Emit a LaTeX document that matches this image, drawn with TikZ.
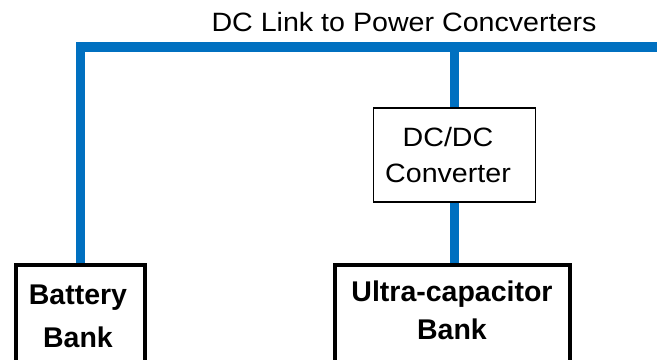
\documentclass[tikz,border=0pt]{standalone}
\usepackage{fontspec}
\setmainfont{Liberation Sans}
\usetikzlibrary{backgrounds}
\definecolor{busblue}{RGB}{0,112,192}
\begin{document}
\begin{tikzpicture}[x=1bp,y=-1bp,
  bigbox/.style={draw=black, line width=4bp, fill=white, outer sep=0pt, inner sep=0pt},
  smallbox/.style={draw=black, line width=1.8bp, fill=white, outer sep=0pt, inner sep=0pt},
  boldtxt/.style={font=\fontsize{28.5bp}{#1}\selectfont\bfseries, align=center, inner sep=0pt},
  regtxt/.style={font=\fontsize{26.5bp}{#1}\selectfont, align=center, inner sep=0pt, xscale=1.08, transform shape},
  bus/.style={draw=busblue, line width=9.5bp, line join=miter, line cap=butt}]
\useasboundingbox (0,0) rectangle (657,359);
\clip (0,0) rectangle (657,359);
% boxes
\node[bigbox, minimum width=129bp, minimum height=125bp, anchor=north] (bat) at (80.5,265) {};
\node[bigbox, minimum width=235bp, minimum height=125bp, anchor=north] (uc) at (452.5,265) {};
\node[smallbox, minimum width=162bp, minimum height=94bp, anchor=north] (dc) at (454.5,108) {};
% texts
\node[boldtxt=43bp] (battxt) at (78,316.1) {Battery\\Bank};
\node[boldtxt=38bp] (uctxt) at (452,310.6) {Ultra-capacitor\\Bank};
\node[regtxt=36bp] (dctxt) at (448,155.5) {DC/DC\\Converter};
\node[regtxt=30bp, anchor=base] (linktxt) at (404,31) {DC Link to Power Concverters};
% connectors
\coordinate (busR) at (680,47);
\begin{scope}[on background layer]
\fill[white] (0,0) rectangle (657,359);
\draw[bus] (bat.north) |- (busR);
\draw[bus] (dc.north) -- (dc.north |- busR);
\draw[bus] (dc.south) -- (dc.south |- uc.north);
\end{scope}
\end{tikzpicture}
\end{document}
